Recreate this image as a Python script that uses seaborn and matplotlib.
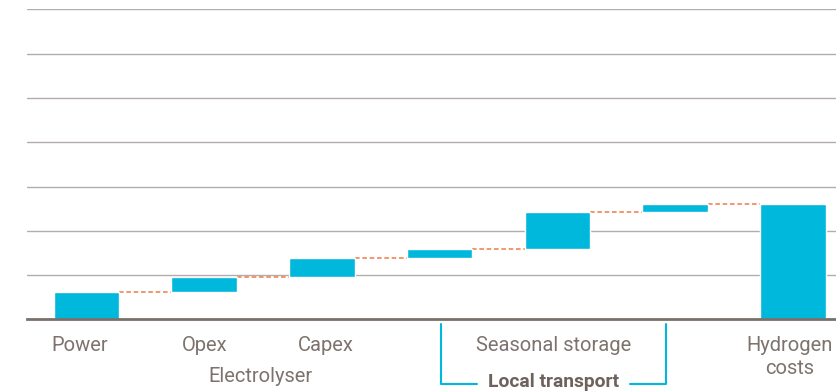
import matplotlib
matplotlib.use("Agg")
import matplotlib.pyplot as plt
import matplotlib.transforms as mtransforms
import seaborn as sns
import numpy as np
import pandas as pd

# Datos del grafico (cascada)
categories = ["Power", "Opex", "Capex", "Transport 1", "Seasonal storage", "Transport 2", "Hydrogen costs"]
tick_labels = ["Power", "Opex", "Capex", "", "Seasonal storage", "", "Hydrogen\ncosts"]
steps = [0.62, 0.34, 0.435, 0.19, 0.845, 0.18]
group_labels = ["Electrolyser", "Local transport"]
#--------------------------------------------------------------------------------------------

BAR = "#00b8dc"
ORANGE = "#f07a45"
GRID = "#b3adaa"
AXIS = "#7a706b"
TEXT = "#7d736e"

cum = np.cumsum(steps)
total = cum[-1]
heights = list(steps) + [total]
bottoms = [0] + list(cum[:-1]) + [0]
tops = list(cum) + [total]

df = pd.DataFrame({"Concepto": categories, "Valor": heights})

sns.set_style("white")
plt.rcParams["font.family"] = ["Roboto", "DejaVu Sans"]

fig = plt.figure(figsize=(8.37, 3.92), dpi=100)
ax = fig.add_axes([0.0319, 0.185, 0.9681, 0.7908])

sns.barplot(data=df, x="Concepto", y="Valor", order=categories, color=BAR,
            saturation=1, width=0.557, bottom=bottoms, ax=ax, zorder=3)

# lineas punteadas entre barras
w = 0.557 / 2
for i in range(len(categories) - 1):
    ax.plot([i + w, i + 1 - w], [tops[i], tops[i]], color=ORANGE, lw=1.1,
            dashes=(3, 1.8), zorder=2)

ax.set_ylim(0, 7)
ax.set_xlim(-0.508, 6.376)
ax.set_yticks(range(1, 8))
ax.yaxis.grid(True, color=GRID, lw=1)
ax.set_axisbelow(True)
ax.set_yticklabels([])
ax.tick_params(left=False, bottom=False)
ax.set_xticks([])
ax.set_xlabel("")
ax.set_ylabel("")
for s in ["top", "right", "left"]:
    ax.spines[s].set_visible(False)
ax.spines["bottom"].set_color(AXIS)
ax.spines["bottom"].set_linewidth(2)
ax.spines["bottom"].set_zorder(4)

# etiquetas (desplazamiento en pixeles)
trans = mtransforms.blended_transform_factory(ax.transData, ax.transAxes)
px = 1.0 / 310
dx = {0: -0.055, 2: 0.035, 4: -0.035, 6: -0.03}
for i, lab in enumerate(tick_labels):
    for j, line in enumerate(lab.split("\n")):
        if line:
            ax.text(i + dx.get(i, 0), -(26 + 22.6 * j) * px, line, transform=trans,
                    ha="center", va="center", fontsize=14.5, color=TEXT)

ax.text(1.5 - 0.02, -57.5 * px, group_labels[0], transform=trans, ha="center", va="center",
        fontsize=14.5, color=TEXT)
ax.text(3.97, -62.5 * px, group_labels[1], transform=trans, ha="center", va="center",
        fontsize=13.9, color="#6e625d", fontweight="bold")

# corchete de transporte local
yb = -64.5 * px
yt = -4.5 * px
ax.plot([3.01, 3.01, 3.318], [yt, yb, yb], color=BAR, lw=1.5, transform=trans, clip_on=False)
ax.plot([4.618, 4.925, 4.925], [yb, yb, yt], color=BAR, lw=1.5, transform=trans, clip_on=False)

plt.savefig("out.png", dpi=100)
